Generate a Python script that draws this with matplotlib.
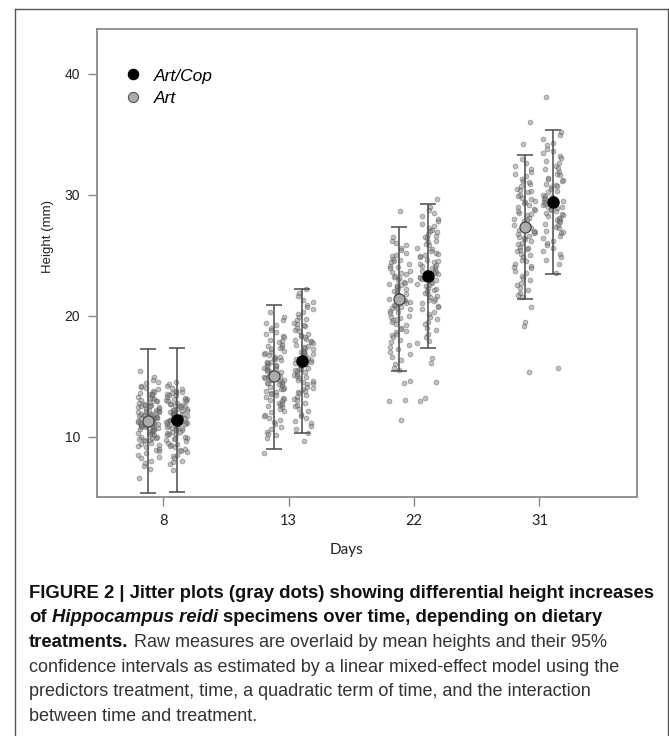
import matplotlib
matplotlib.use('Agg')
import matplotlib.pyplot as plt
from matplotlib.lines import Line2D

# ---- data ----
days = ['8', '13', '22', '31']
labels = ['Art/Cop', 'Art']

art_mean = [11.3, 15.0, 21.35, 27.35]
art_lo = [5.3, 9.0, 15.4, 21.4]
art_hi = [17.2, 20.9, 27.3, 33.3]
cop_mean = [11.4, 16.25, 23.25, 29.35]
cop_lo = [5.4, 10.25, 17.3, 23.4]
cop_hi = [17.35, 22.2, 29.2, 35.3]

art8 = [15.4, 14.9, 14.7, 14.5, 14.4, 14.2, 14.1, 14.0, 13.9, 13.8,
        13.7, 13.6, 13.5, 13.5, 13.4, 13.3, 13.2, 13.2, 13.1, 13.0,
        12.9, 12.9, 12.8, 12.8, 12.7, 12.6, 12.6, 12.5, 12.4, 12.4,
        12.3, 12.3, 12.2, 12.1, 12.1, 12.0, 12.0, 11.9, 11.9, 11.8,
        11.8, 11.7, 11.7, 11.6, 11.6, 11.5, 11.5, 11.4, 11.4, 11.3,
        11.3, 11.2, 11.2, 11.1, 11.1, 11.0, 11.0, 10.9, 10.9, 10.8,
        10.8, 10.7, 10.7, 10.6, 10.6, 10.5, 10.4, 10.4, 10.3, 10.2,
        10.2, 10.1, 10.0, 10.0, 9.9, 9.8, 9.7, 9.7, 9.6, 9.5,
        9.4, 9.3, 9.2, 9.1, 9.0, 8.9, 8.8, 8.6, 8.5, 8.3,
        8.2, 8.0, 7.8, 7.6, 7.3, 6.6, 12.0, 11.5, 11.0, 10.5,
        12.5, 11.8, 11.2, 10.9, 12.2, 9.9]
cop8 = [14.5, 14.3, 14.2, 14.0, 13.9, 13.8, 13.7, 13.7, 13.6, 13.5,
        13.4, 13.4, 13.3, 13.2, 13.1, 13.1, 13.0, 12.9, 12.9, 12.8,
        12.7, 12.7, 12.6, 12.5, 12.5, 12.4, 12.3, 12.3, 12.2, 12.2,
        12.1, 12.0, 12.0, 11.9, 11.9, 11.8, 11.8, 11.7, 11.7, 11.6,
        11.6, 11.5, 11.5, 11.4, 11.4, 11.3, 11.3, 11.2, 11.2, 11.1,
        11.1, 11.0, 11.0, 10.9, 10.9, 10.8, 10.7, 10.7, 10.6, 10.5,
        10.5, 10.4, 10.3, 10.2, 10.2, 10.1, 10.0, 9.9, 9.8, 9.7,
        9.6, 9.5, 9.4, 9.3, 9.2, 9.1, 9.0, 8.9, 8.8, 8.7,
        8.5, 8.4, 8.2, 8.0, 7.9, 7.7, 7.2, 12.6, 11.9, 11.4,
        10.8, 12.1, 11.6, 10.4, 13.0, 9.9]
art13 = [20.3, 19.9, 19.6, 19.4, 19.2, 19.0, 18.8, 18.6, 18.5, 18.3,
         18.2, 18.0, 17.9, 17.8, 17.6, 17.5, 17.4, 17.3, 17.1, 17.0,
         16.9, 16.8, 16.7, 16.6, 16.5, 16.4, 16.3, 16.2, 16.1, 16.0,
         15.9, 15.8, 15.7, 15.6, 15.6, 15.5, 15.4, 15.3, 15.3, 15.2,
         15.1, 15.0, 15.0, 14.9, 14.8, 14.7, 14.7, 14.6, 14.5, 14.4,
         14.3, 14.3, 14.2, 14.1, 14.0, 13.9, 13.8, 13.7, 13.6, 13.5,
         13.4, 13.3, 13.2, 13.1, 13.0, 12.9, 12.8, 12.7, 12.5, 12.4,
         12.3, 12.1, 12.0, 11.8, 11.7, 11.5, 11.4, 11.2, 11.0, 10.8,
         10.6, 10.4, 10.2, 10.1, 9.9, 8.6, 16.2, 15.8, 14.9, 14.4,
         17.2, 13.9, 16.6, 15.1, 12.6]
cop13 = [22.2, 21.9, 21.6, 21.3, 21.1, 20.9, 20.7, 20.5, 20.3, 20.1,
         19.9, 19.7, 19.6, 19.4, 19.3, 19.1, 19.0, 18.8, 18.7, 18.5,
         18.4, 18.3, 18.1, 18.0, 17.9, 17.8, 17.6, 17.5, 17.4, 17.3,
         17.2, 17.1, 17.0, 16.9, 16.8, 16.7, 16.6, 16.5, 16.4, 16.3,
         16.2, 16.1, 16.0, 15.9, 15.8, 15.7, 15.6, 15.5, 15.4, 15.3,
         15.2, 15.1, 15.0, 14.9, 14.8, 14.7, 14.5, 14.4, 14.3, 14.1,
         14.0, 13.9, 13.7, 13.6, 13.4, 13.3, 13.1, 13.0, 12.8, 12.6,
         12.5, 12.3, 12.1, 11.9, 11.7, 11.5, 11.3, 11.1, 10.9, 10.6,
         10.3, 9.6, 18.2, 17.7, 16.4, 15.6, 19.2, 14.6, 13.8, 17.0]
art22 = [28.6, 26.5, 26.2, 26.0, 25.8, 25.6, 25.4, 25.2, 25.0, 24.9,
         24.7, 24.6, 24.4, 24.3, 24.1, 24.0, 23.9, 23.7, 23.6, 23.5,
         23.3, 23.2, 23.1, 22.9, 22.8, 22.7, 22.6, 22.5, 22.4, 22.3,
         22.2, 22.1, 22.0, 21.9, 21.8, 21.7, 21.6, 21.5, 21.4, 21.3,
         21.2, 21.1, 21.0, 20.9, 20.8, 20.7, 20.6, 20.5, 20.4, 20.3,
         20.2, 20.0, 19.9, 19.8, 19.6, 19.5, 19.3, 19.2, 19.0, 18.9,
         18.7, 18.6, 18.4, 18.2, 18.0, 17.8, 17.6, 17.4, 17.2, 17.0,
         16.8, 16.6, 16.3, 16.0, 15.7, 15.5, 14.6, 14.4, 13.0, 12.9,
         11.4, 22.4, 21.7, 23.4, 20.6, 24.5, 19.7, 21.0, 22.9, 18.5]
cop22 = [29.6, 29.0, 28.7, 28.5, 28.2, 28.0, 27.8, 27.6, 27.4, 27.2,
         27.0, 26.9, 26.7, 26.5, 26.4, 26.2, 26.1, 25.9, 25.8, 25.6,
         25.5, 25.3, 25.2, 25.0, 24.9, 24.8, 24.6, 24.5, 24.4, 24.2,
         24.1, 24.0, 23.9, 23.8, 23.7, 23.6, 23.5, 23.4, 23.3, 23.2,
         23.1, 23.0, 22.9, 22.8, 22.7, 22.6, 22.5, 22.4, 22.3, 22.2,
         22.0, 21.9, 21.8, 21.6, 21.5, 21.3, 21.2, 21.0, 20.8, 20.7,
         20.5, 20.3, 20.1, 19.9, 19.7, 19.5, 19.3, 19.0, 18.8, 18.5,
         18.2, 17.9, 17.7, 16.5, 16.1, 14.5, 13.2, 12.9, 24.3, 23.6,
         25.1, 22.1, 26.6, 23.0, 21.4, 27.1]
art31 = [36.0, 34.2, 32.9, 32.6, 32.4, 32.1, 31.9, 31.7, 31.5, 31.3,
         31.1, 30.9, 30.7, 30.5, 30.4, 30.2, 30.0, 29.9, 29.7, 29.6,
         29.4, 29.3, 29.1, 29.0, 28.8, 28.7, 28.5, 28.4, 28.3, 28.1,
         28.0, 27.9, 27.8, 27.6, 27.5, 27.4, 27.3, 27.2, 27.1, 26.9,
         26.8, 26.7, 26.6, 26.4, 26.3, 26.2, 26.0, 25.9, 25.7, 25.6,
         25.4, 25.3, 25.1, 25.0, 24.8, 24.6, 24.5, 24.3, 24.1, 23.9,
         23.7, 23.5, 23.3, 23.1, 22.9, 22.7, 22.5, 22.3, 22.1, 21.9,
         21.7, 21.5, 20.7, 19.5, 19.1, 15.3, 28.6, 27.0, 29.5, 26.5,
         30.3, 25.5, 31.0, 24.0]
cop31 = [38.1, 35.2, 34.9, 34.6, 34.3, 34.1, 33.8, 33.6, 33.4, 33.2,
         33.0, 32.8, 32.6, 32.4, 32.2, 32.1, 31.9, 31.7, 31.6, 31.4,
         31.2, 31.1, 30.9, 30.8, 30.6, 30.5, 30.3, 30.2, 30.0, 29.9,
         29.8, 29.6, 29.5, 29.4, 29.3, 29.2, 29.1, 29.0, 28.9, 28.8,
         28.7, 28.6, 28.5, 28.4, 28.3, 28.2, 28.0, 27.9, 27.8, 27.6,
         27.5, 27.3, 27.2, 27.0, 26.8, 26.6, 26.4, 26.2, 26.0, 25.8,
         25.6, 25.3, 25.1, 24.8, 24.6, 24.3, 23.5, 15.7, 29.7, 28.1,
         30.7, 27.7, 31.3, 26.9, 29.0]

art_raw = [art8, art13, art22, art31]
cop_raw = [cop8, cop13, cop22, cop31]

# ---- figure ----
W, H = 669, 736
fig = plt.figure(figsize=(W / 100, H / 100), dpi=100)
ax = fig.add_axes([97 / W, 1 - 497 / H, 540 / W, (497 - 29.3) / H])

pos = [1, 2, 3, 4]
off_art, off_cop = -0.117, 0.11
jw = 0.085


def jitter(n, seed):
    # deterministic, non-linear scramble so the strip has no visible stripes
    return [((((i * i * 7 + i * 29 + seed) % 53) / 52) - 0.5) * 2 * jw for i in range(n)]


for k, (p, ya, yc) in enumerate(zip(pos, art_raw, cop_raw)):
    ja = jitter(len(ya), 5 + 11 * k)
    jc = jitter(len(yc), 23 + 13 * k)
    ax.plot([p + off_art + d for d in ja], ya, 'o', ms=3.5, color='#7c7c7c',
            mec='#454545', mew=0.5, alpha=0.47, zorder=2)
    ax.plot([p + off_cop + d for d in jc], yc, 'o', ms=3.5, color='#7c7c7c',
            mec='#454545', mew=0.5, alpha=0.47, zorder=2)

xa = [p + off_art for p in pos]
xc = [p + off_cop for p in pos]
ax.errorbar(xa, art_mean,
            yerr=[[m - l for m, l in zip(art_mean, art_lo)],
                  [h - m for m, h in zip(art_mean, art_hi)]],
            fmt='none', ecolor='#4a4a4a', elinewidth=1.1, capsize=5.8,
            capthick=1.1, zorder=3)
ax.errorbar(xc, cop_mean,
            yerr=[[m - l for m, l in zip(cop_mean, cop_lo)],
                  [h - m for m, h in zip(cop_mean, cop_hi)]],
            fmt='none', ecolor='#4a4a4a', elinewidth=1.1, capsize=5.8,
            capthick=1.1, zorder=3)
ax.plot(xa, art_mean, 'o', ms=8, color='#ababab', mec='#3a3a3a', mew=0.8, zorder=4)
ax.plot(xc, cop_mean, 'o', ms=8, color='black', mec='black', zorder=4)

ax.set_xlim(0.474, 4.777)
ax.set_ylim(5.0, 43.66)
ax.set_xticks(pos)
ax.set_xticklabels(days, fontfamily='Lato', fontsize=10.5, color='#222222')
ax.set_yticks([10, 20, 30, 40])
ax.set_yticklabels(['10', '20', '30', '40'], fontfamily='Liberation Sans',
                   fontsize=10, color='#222222')
ax.tick_params(axis='both', direction='out', length=6.5, width=1.0,
               color='#8a8a8a', pad=5.5)
for s in ax.spines.values():
    s.set_color('#8a8a8a')
    s.set_linewidth(1.3)

ax.set_ylabel('Height (mm)', fontfamily='Liberation Sans', fontsize=9.5,
              color='#222222')
ax.yaxis.set_label_coords(-0.08, 0.556)
ax.set_xlabel('Days', fontfamily='Lato', fontsize=11, color='#222222')
ax.xaxis.set_label_coords(0.462, -0.098)

handles = [Line2D([], [], marker='o', ls='none', color='black', ms=7.3),
           Line2D([], [], marker='o', ls='none', color='#ababab', mec='#555555',
                  mew=0.8, ms=7.3)]
ax.legend(handles, labels, loc='upper left', bbox_to_anchor=(0.034, 0.935),
          frameon=False, borderpad=0, handlelength=1.0, handletextpad=0.7,
          labelspacing=0.45,
          prop={'family': 'Liberation Sans', 'style': 'italic', 'size': 12.5})

# outer panel frame
frame_kw = dict(color='#555555', lw=1.0, transform=fig.transFigure)
fig.add_artist(Line2D([15 / W, 15 / W], [0, 1 - 8.5 / H], **frame_kw))
fig.add_artist(Line2D([15 / W, 667.5 / W], [1 - 8.5 / H, 1 - 8.5 / H], **frame_kw))
fig.add_artist(Line2D([667.5 / W, 667.5 / W], [0, 1 - 8.5 / H], **frame_kw))

# ---- caption ----
fig.canvas.draw()
rend = fig.canvas.get_renderer()


def width_of(s, **kw):
    t = fig.text(0, 0, s, **kw)
    w = t.get_window_extent(renderer=rend).width
    t.remove()
    return w


base = {'family': 'Liberation Sans'}
bsize = 11 * 628 / width_of('FIGURE 2 | Jitter plots (gray dots) showing differential height increases',
                            fontsize=11, fontweight='bold', **base)
rsize = 11 * 588 / width_of('confidence intervals as estimated by a linear mixed-effect model using the',
                            fontsize=11, **base)
bold = dict(fontsize=bsize, fontweight='bold', color='#111111', **base)
boldit = dict(fontsize=bsize, fontweight='bold', fontstyle='italic', color='#111111', **base)
reg = dict(fontsize=rsize, color='#333333', **base)

caption = [
    [('FIGURE 2 | Jitter plots (gray dots) showing differential height increases', bold)],
    [('of', bold), ('Hippocampus reidi', boldit), ('specimens over time, depending on dietary', bold)],
    [('treatments.', bold), ('Raw measures are overlaid by mean heights and their 95%', reg)],
    [('confidence intervals as estimated by a linear mixed-effect model using the', reg)],
    [('predictors treatment, time, a quadratic term of time, and the interaction', reg)],
    [('between time and treatment.', reg)],
]
y0, dy = 597.5, 24.7
for k, line in enumerate(caption):
    x = 29
    for s, kw in line:
        t = fig.text(x / W, 1 - (y0 + k * dy) / H, s, ha='left', va='baseline', **kw)
        x += t.get_window_extent(renderer=rend).width
        x += width_of('a a', **kw) - width_of('aa', **kw)

fig.savefig('out.png', dpi=100)
